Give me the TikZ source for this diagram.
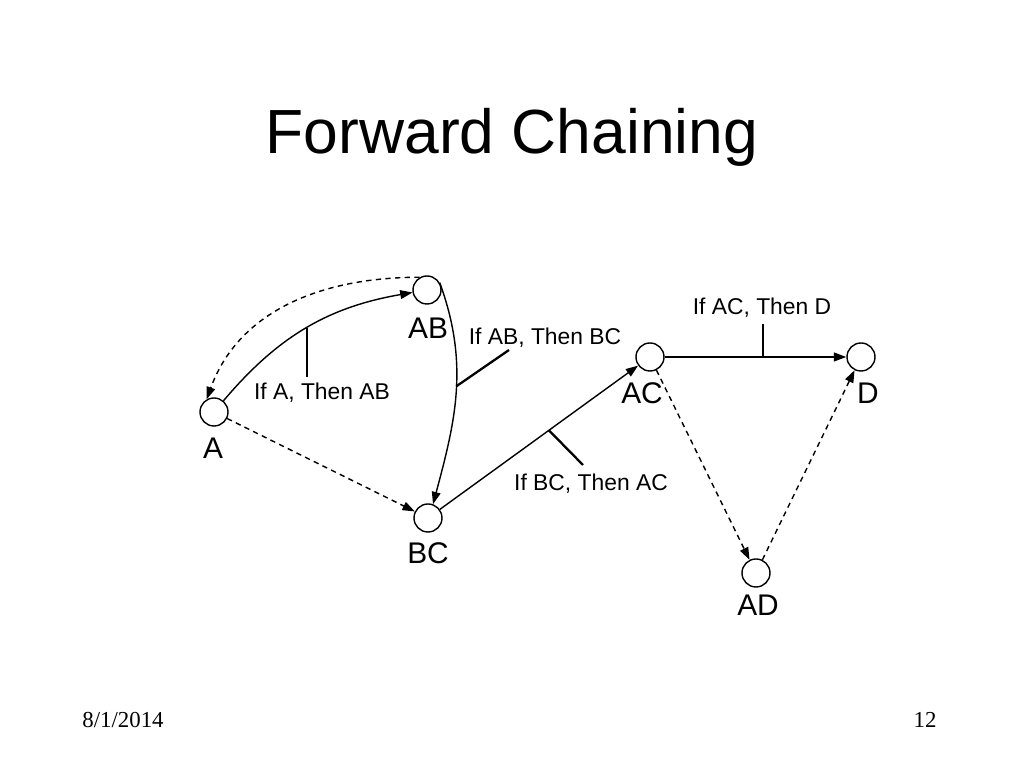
\documentclass[tikz,border=0pt]{standalone}
\usepackage{fontspec}
\setmainfont{Liberation Serif}
\newfontfamily\arialfont{Liberation Sans}
\usetikzlibrary{arrows.meta}

\begin{document}
\begin{tikzpicture}[
    stato/.style={draw, circle, minimum size=0.56cm, inner sep=0pt, line width=0.8pt},
    nome/.style={font=\arialfont\fontsize{17}{19}\selectfont},
    regola/.style={font=\arialfont\fontsize{13}{15}\selectfont},
    freccia/.style={line width=0.8pt, -{Triangle[length=7pt,width=5pt]}},
    tratteggio/.style={dash pattern=on 3pt off 2.5pt},
    tacca/.style={line width=1.3pt}
]
    \useasboundingbox (0,0) rectangle (20.48,15.36);

    % Titolo
    \node[font=\arialfont\fontsize{35.5}{40}\selectfont] (titolo) at (10.24,12.62) {Forward Chaining};

    % Stati
    \node[stato] (A) at (4.28,7.12) {};
    \node[stato] (AB) at (8.54,9.56) {};
    \node[stato] (BC) at (8.56,5.00) {};
    \node[stato] (AC) at (13.00,8.22) {};
    \node[stato] (D) at (17.22,8.22) {};
    \node[stato] (AD) at (15.12,3.90) {};

    % Nomi degli stati
    \node[nome] (A_nome) at (4.26,6.40) {A};
    \node[nome] (AB_nome) at (8.56,8.80) {AB};
    \node[nome] (BC_nome) at (8.56,4.30) {BC};
    \node[nome] (AC_nome) at (12.84,7.50) {AC};
    \node[nome] (D_nome) at (17.36,7.50) {D};
    \node[nome] (AD_nome) at (15.16,3.26) {AD};

    % Regole
    \node[regola] (r_ab) at (6.44,7.50) {If A, Then AB};
    \node[regola] (r_bc) at (10.90,8.60) {If AB, Then BC};
    \node[regola] (r_ac) at (11.82,5.68) {If BC, Then AC};
    \node[regola] (r_d) at (15.24,9.20) {If AC, Then D};

    % Frecce
    \draw[freccia] (A) to[bend left=20] coordinate[pos=0.5] (t_ab) (AB);
    \draw[freccia, tratteggio] (AB.120) to[out=180, in=70] (A.120);
    \draw[freccia] (AB.30) to[out=-70, in=75] coordinate[pos=0.47] (t_bc) (BC.70);
    \draw[freccia, tratteggio] (A) -- (BC);
    \draw[freccia] (BC) -- coordinate[pos=0.55] (t_ac) (AC);
    \draw[freccia] (AC) -- coordinate[pos=0.54] (t_d) (D);
    \draw[freccia, tratteggio] (AC) -- (AD);
    \draw[freccia, tratteggio] (AD) -- (D);

    % Tacche
    \coordinate (t_bc_fine) at (10.18,8.36);
    \coordinate (t_ac_fine) at (11.66,6.06);
    \draw[tacca] (t_ab) -- (t_ab |- r_ab.north);
    \draw[tacca] (t_bc) -- (t_bc_fine);
    \draw[tacca] (t_ac) -- (t_ac_fine);
    \draw[tacca] (t_d) -- (t_d |- r_d.south);

    % Piè di pagina
    \node[font=\fontsize{13}{15}\selectfont] (data) at (2.46,0.96) {8/1/2014};
    \node[font=\fontsize{13}{15}\selectfont] (pagina) at (18.50,0.96) {12};
\end{tikzpicture}
\end{document}
